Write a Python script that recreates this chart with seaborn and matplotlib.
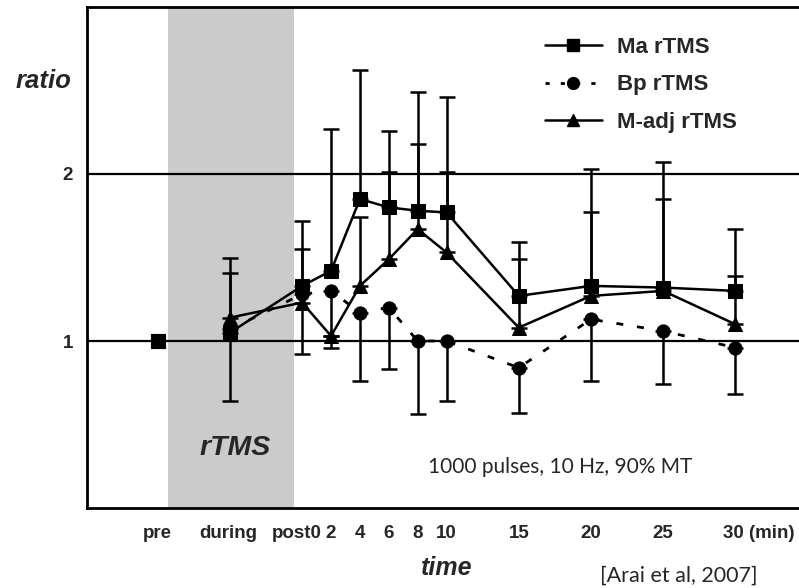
import matplotlib
matplotlib.use("Agg")
import matplotlib.pyplot as plt
from matplotlib.lines import Line2D
from matplotlib.transforms import ScaledTranslation
import seaborn as sns
import pandas as pd

# ---- data ----
tick_labels = ["pre", "during", "post0", "2", "4", "6", "8", "10", "15", "20", "25", "30 (min)"]
tick_pos = [-10, -5, 0, 2, 4, 6, 8, 10, 15, 20, 25, 30]
series_x = [-5, 0, 2, 4, 6, 8, 10, 15, 20, 25, 30]
pre_x = [-10]
pre_y = [1.0]

ma = [1.05, 1.33, 1.42, 1.85, 1.80, 1.78, 1.77, 1.27, 1.33, 1.32, 1.30]
ma_up = [0.45, 0.39, 0.85, 0.77, 0.46, 0.71, 0.69, 0.32, 0.70, 0.75, 0.37]
bp = [1.07, 1.28, 1.30, 1.17, 1.20, 1.00, 1.00, 0.84, 1.13, 1.06, 0.96]
bp_low = [0.43, 0.36, 0.34, 0.41, 0.37, 0.44, 0.36, 0.27, 0.37, 0.32, 0.28]
madj = [1.14, 1.23, 1.03, 1.33, 1.49, 1.67, 1.53, 1.08, 1.27, 1.30, 1.10]
madj_up = [0.27, 0.32, 0.0, 0.41, 0.52, 0.51, 0.48, 0.41, 0.50, 0.55, 0.29]

series_names = ["Ma rTMS", "Bp rTMS", "M-adj rTMS"]
rtms_span = (-9.3, -0.6)

sns.set_style("white")
plt.rcParams["font.family"] = ["Liberation Sans", "DejaVu Sans"]

fig = plt.figure(figsize=(7.99, 5.88), dpi=100)
ax = fig.add_axes([87 / 799, 1 - 508 / 588, 720.6 / 799, (508 - 7) / 588])
ax.set_xlim(-14.9, 35.0)
ax.set_ylim(0, 3)

ax.axvspan(*rtms_span, color="#cbcbcb", lw=0, zorder=0)
for yv in (1, 2):
    ax.axhline(yv, color="black", lw=1.6, zorder=1)

z = [0] * len(series_x)
ax.errorbar(series_x, ma, yerr=[z, ma_up], fmt="none", ecolor="black",
            elinewidth=1.8, capsize=5.5, capthick=1.8, zorder=2)
ax.errorbar(series_x, madj, yerr=[z, madj_up], fmt="none", ecolor="black",
            elinewidth=1.8, capsize=5.5, capthick=1.8, zorder=2)
ax.errorbar(series_x, bp, yerr=[bp_low, z], fmt="none", ecolor="black",
            elinewidth=1.8, capsize=5.5, capthick=1.8, zorder=2)

df_ma = pd.DataFrame({"t": series_x, "v": ma})
df_bp = pd.DataFrame({"t": series_x, "v": bp})
df_madj = pd.DataFrame({"t": series_x, "v": madj})

sns.lineplot(data=df_bp, x="t", y="v", ax=ax, color="black", lw=2,
             linestyle=(0, (2.5, 5)), marker="o", markersize=9.5,
             markeredgecolor="black", legend=False, zorder=3)
sns.lineplot(data=df_madj, x="t", y="v", ax=ax, color="black", lw=1.8,
             marker="^", markersize=9.5, markeredgecolor="black",
             legend=False, zorder=4)
sns.lineplot(data=df_ma, x="t", y="v", ax=ax, color="black", lw=1.8,
             marker="s", markersize=10, markeredgecolor="black",
             legend=False, zorder=5)
sns.scatterplot(x=pre_x, y=pre_y, ax=ax, color="black", marker="s", s=110,
                edgecolor="black", zorder=5, legend=False)

ax.set_xticks(tick_pos)
ax.set_xticklabels(tick_labels, fontsize=13.5, fontweight="bold")
ax.set_yticks([1, 2])
ax.set_yticklabels(["1", "2"], fontsize=13.5, fontweight="bold")
ax.tick_params(axis="both", length=0)
ax.tick_params(axis="x", pad=12)
ax.tick_params(axis="y", pad=10)
xlabels = ax.get_xticklabels()
shifts = {1: -2, 2: -5}
for i, dx in shifts.items():
    lbl = xlabels[i]
    lbl.set_transform(lbl.get_transform() + ScaledTranslation(dx / 100, 0, fig.dpi_scale_trans))
last = xlabels[-1]
last.set_horizontalalignment("left")
last.set_transform(last.get_transform() + ScaledTranslation(-12 / 100, 0, fig.dpi_scale_trans))
ax.set_xlabel("")
ax.set_ylabel("")

for s in ax.spines.values():
    s.set_linewidth(2)
    s.set_color("black")

handles = [
    Line2D([], [], color="black", lw=1.8, marker="s", markersize=8.5),
    Line2D([], [], color="black", lw=2, linestyle=(0, (1.5, 4)), marker="o", markersize=8.5),
    Line2D([], [], color="black", lw=1.8, marker="^", markersize=8.5),
]
leg = fig.legend(handles, series_names, loc="upper left",
                 bbox_to_anchor=(536 / 799, 1 - 28 / 588), frameon=False,
                 prop={"weight": "bold", "size": 16}, handlelength=2.55,
                 handletextpad=0.68, labelspacing=0.74, borderaxespad=0)

fig.text(43 / 799, 1 - 88 / 588, "ratio", fontsize=18.5, fontweight="bold",
         fontstyle="italic", ha="center", va="baseline")
fig.text(447 / 799, 1 - 575 / 588, "time", fontsize=18, fontweight="bold",
         fontstyle="italic", ha="center", va="baseline")
fig.text(235 / 799, 1 - 448 / 588, "rTMS", fontsize=20.5, fontweight="bold",
         fontstyle="italic", ha="center", va="center")
fig.text(428 / 799, 1 - 467 / 588, "1000 pulses, 10 Hz, 90% MT", fontsize=15,
         family=["Lato", "DejaVu Sans"], ha="left", va="center")
fig.text(600 / 799, 1 - 576 / 588, "[Arai et al, 2007]", fontsize=15.5,
         family=["Lato", "DejaVu Sans"], ha="left", va="center")

fig.savefig("out.png", dpi=100)
